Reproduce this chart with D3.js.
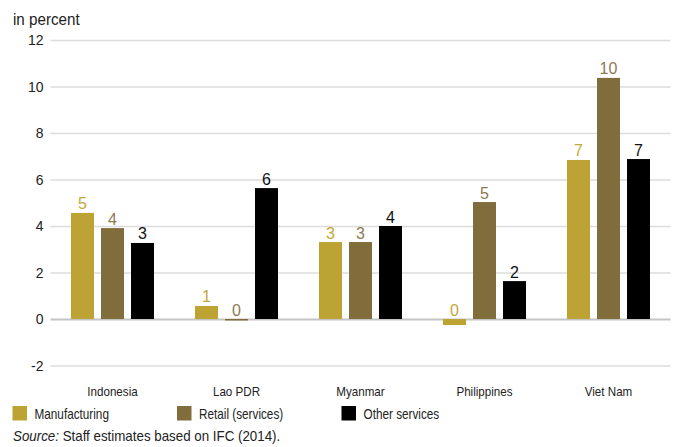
<!DOCTYPE html>
<html>
<head>
<meta charset="utf-8">
<script src="https://cdn.jsdelivr.net/npm/d3@7/dist/d3.min.js"></script>
<style>
  html, body { margin: 0; padding: 0; background: #fff; }
  svg { display: block; }
  text { font-family: "Liberation Sans", Arial, Helvetica, sans-serif; }
</style>
</head>
<body>
<svg id="chart" width="678" height="447"></svg>
<script>
const categories = ["Indonesia", "Lao PDR", "Myanmar", "Philippines", "Viet Nam"];
const seriesNames = ["Manufacturing", "Retail (services)", "Other services"];
const manufacturing = [4.56, 0.56, 3.31, -0.26, 6.84];
const retail = [3.91, -0.05, 3.31, 5.03, 10.37];
const otherServices = [3.27, 5.63, 4.00, 1.63, 6.88];
const yTicks = [-2, 0, 2, 4, 6, 8, 10, 12];
const colors = ["#BCA333", "#816D3C", "#000000"];
const labelColors = ["#C2A83A", "#8C7A52", "#111111"];

const seriesValues = [manufacturing, retail, otherServices];

const svg = d3.select("#chart");
const mLeft = 50.5, mRight = 670.5, mTop = 40, mBottom = 365.5;

// condense text horizontally (reference uses a condensed face)
function condense(sel, k) {
  sel.each(function() {
    const w = this.getComputedTextLength();
    d3.select(this).attr("textLength", w * k).attr("lengthAdjust", "spacingAndGlyphs");
  });
}

const x0 = d3.scaleBand().domain(categories).range([mLeft, mRight]).paddingInner(0).paddingOuter(0);
const x1 = d3.scaleBand().domain(seriesNames).range([20.5, 124 - 20.5]).paddingInner(7 / 30).paddingOuter(0);
const y = d3.scaleLinear().domain([-2, 12]).range([mBottom, mTop]);

// grid lines + tick labels
const yAxis = d3.axisLeft(y).tickValues(yTicks).tickSize(-(mRight - mLeft)).tickPadding(7).tickFormat(d => String(d));
const ga = svg.append("g").attr("transform", `translate(${mLeft},0)`).call(yAxis);
ga.select(".domain").remove();
ga.selectAll(".tick line").attr("stroke", d => d === 0 ? "#c4c4c4" : "#dcdcdc").attr("stroke-width", d => d === 0 ? 2 : 1.5);
ga.selectAll(".tick text").attr("font-family", "Liberation Sans, Arial, sans-serif").attr("font-size", 15).attr("fill", "#222");
condense(ga.selectAll(".tick text"), 0.93);

// bars
const groups = svg.append("g").selectAll("g").data(categories).join("g")
  .attr("transform", d => `translate(${x0(d)},0)`);

groups.each(function(cat, ci) {
  const g = d3.select(this);
  seriesNames.forEach((s, si) => {
    const v = seriesValues[si][ci];
    g.append("rect")
      .attr("x", x1(s))
      .attr("width", x1.bandwidth())
      .attr("y", v >= 0 ? y(v) : y(0))
      .attr("height", Math.max(Math.abs(y(v) - y(0)), 1.5))
      .attr("fill", colors[si]);
    const r = Math.round(v);
    g.append("text")
      .attr("x", x1(s) + x1.bandwidth() / 2)
      .attr("y", (v >= 0 ? y(v) : y(0)) - 3.5)
      .attr("text-anchor", "middle")
      .attr("font-size", 16)
      .attr("fill", labelColors[si])
      .text(r === 0 ? "0" : String(r));
  });
});

// category labels
const cat = svg.append("g").selectAll("text").data(categories).join("text")
  .attr("x", d => x0(d) + x0.bandwidth() / 2)
  .attr("y", 395.5)
  .attr("text-anchor", "middle")
  .attr("font-size", 13.5)
  .attr("fill", "#222")
  .text(d => d);
condense(cat, 0.86);

// y label
const yl = svg.append("text").attr("x", 13).attr("y", 25)
  .attr("font-size", 16.5).attr("fill", "#222").text("in percent");
condense(yl, 0.92);

// legend
const legendX = [12.5, 177, 341.5];
const lg = svg.append("g").selectAll("g").data(seriesNames).join("g")
  .attr("transform", (d, i) => `translate(${legendX[i]},406)`);
lg.append("rect").attr("width", 14.5).attr("height", 14.5).attr("fill", (d, i) => colors[i]);
const lt = lg.append("text").attr("x", 22).attr("y", 13.3)
  .attr("font-size", 14.5).attr("fill", "#222").text(d => d);
condense(lt, 0.81);

// source
const srcG = svg.append("g").attr("transform", "translate(13,440.7) scale(0.92,1)");
const src = srcG.append("text").attr("x", 0).attr("y", 0)
  .attr("font-size", 14.5).attr("fill", "#222");
src.append("tspan").attr("font-style", "italic").text("Source:");
src.append("tspan").text(" Staff estimates based on IFC (2014).");
</script>
</body>
</html>
